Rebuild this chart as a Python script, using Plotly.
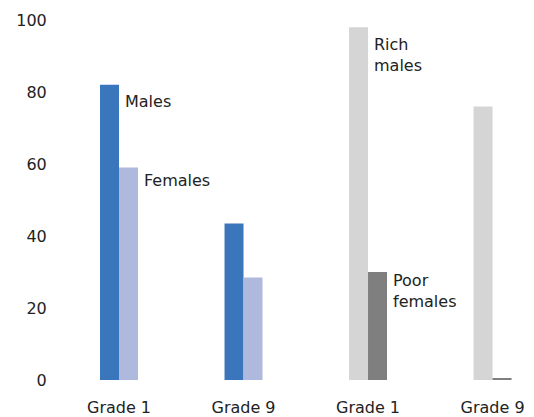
import plotly.graph_objects as go

# Grade groups: gender comparison (first two), wealth x gender comparison (last two)
categories = ["Grade 1", "Grade 9", "Grade 1", "Grade 9"]
positions = [0, 1, 2, 3]

males = [82, 43.5, None, None]
females = [59, 28.5, None, None]
rich_males = [None, None, 98, 76]
poor_females = [None, None, 30, 0.4]

bargap = 0.695
bw = (1 - bargap) / 2

FONT = "DejaVu Sans"
SIZE = 16

fig = go.Figure()
# first bar of each pair
fig.add_trace(go.Bar(
    x=positions,
    y=[m if m is not None else r for m, r in zip(males, rich_males)],
    marker_color=["#3A76BC", "#3A76BC", "#D5D5D5", "#D5D5D5"],
    marker_line_width=0,
    hoverinfo="y",
))
# second bar of each pair
fig.add_trace(go.Bar(
    x=positions,
    y=[f if f is not None else p for f, p in zip(females, poor_females)],
    marker_color=["#AEB9DD", "#AEB9DD", "#7F7F7F", "#7F7F7F"],
    marker_line_width=0,
    hoverinfo="y",
))

label_font = dict(family=FONT, size=SIZE, color="#222222")
annotations = [
    dict(x=positions[0], y=males[0], text="Males", yshift=-17),
    dict(x=positions[0] + bw, y=females[0], text="Females", yshift=-13),
    dict(x=positions[2], y=rich_males[2], text="Rich<br>males", yshift=-28),
    dict(x=positions[2] + bw, y=poor_females[2], text="Poor<br>females", yshift=-19),
]
for a in annotations:
    fig.add_annotation(
        x=a["x"], y=a["y"], text=a["text"], yshift=a["yshift"], xshift=4,
        xanchor="left", yanchor="middle", align="left", showarrow=False,
        font=label_font,
    )

fig.update_layout(
    width=534, height=417,
    margin=dict(l=55, r=0, t=20, b=37),
    paper_bgcolor="white", plot_bgcolor="white",
    barmode="group", bargap=bargap, bargroupgap=0,
    showlegend=False,
    font=dict(family=FONT, size=SIZE, color="#222222"),
    xaxis=dict(
        range=[-0.514, 3.333],
        tickmode="array", tickvals=positions, ticktext=categories,
        showgrid=False, zeroline=False, showline=False,
        ticks="outside", ticklen=13, tickcolor="rgba(0,0,0,0)",
        tickfont=dict(family=FONT, size=SIZE, color="#222222"),
        fixedrange=True,
    ),
    yaxis=dict(
        range=[0, 100],
        tickmode="array", tickvals=[0, 20, 40, 60, 80, 100],
        showgrid=False, zeroline=False, showline=False,
        ticks="outside", ticklen=4, tickcolor="rgba(0,0,0,0)",
        tickfont=dict(family=FONT, size=SIZE, color="#222222"),
        fixedrange=True,
    ),
)

fig.write_html("out.html")
